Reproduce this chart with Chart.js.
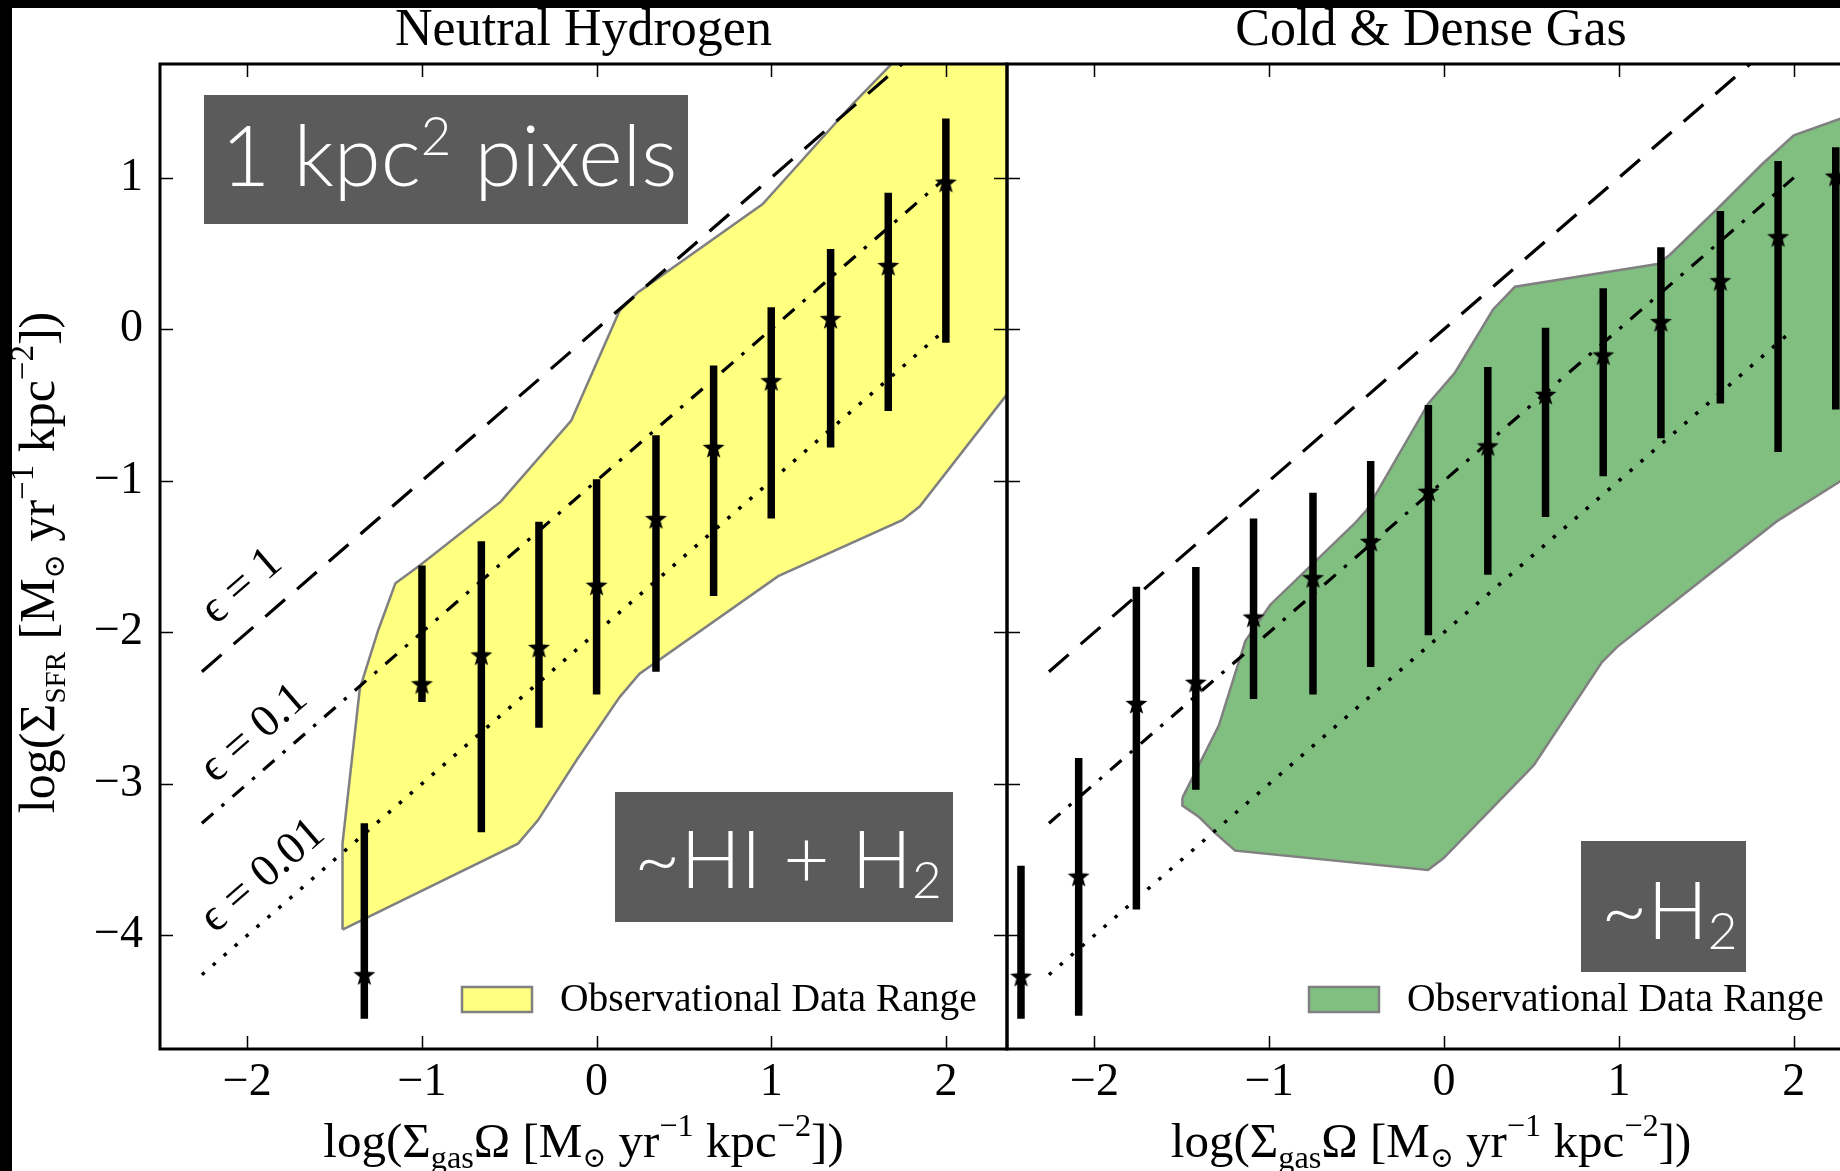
<!DOCTYPE html>
<html>
<head>
<meta charset="utf-8">
<title>SFR vs gas</title>
<script src="https://cdn.jsdelivr.net/npm/chart.js@4.4.1/dist/chart.umd.min.js"></script>
<style>
  html, body { margin: 0; padding: 0; width: 1840px; height: 1171px; overflow: hidden; background: #fff; }
  canvas { position: absolute; top: 0; }
  #left { left: 0; }
  #right { left: 997px; }
  .edge { position: absolute; background: #000; }
</style>
</head>
<body>
<canvas id="left" width="1010" height="1171"></canvas>
<canvas id="right" width="870" height="1171"></canvas>
<div class="edge" style="left:0;top:0;width:1840px;height:8px"></div>
<div class="edge" style="left:0;top:0;width:12px;height:1171px"></div>
<script>
// shared axes
const xTicks = [-2, -1, 0, 1, 2];
const yTicks = [-4, -3, -2, -1, 0, 1];
const xLimits = [-2.5, 2.35];
const yLimits = [-4.75, 1.75];

// efficiency lines, eps = 1, 0.1, 0.01
const effX = [-2.26, 2.0];
const effOne = [-2.26, 2.0];
const effTenth = [-3.26, 1.0];
const effHundredth = [-4.26, 0.0];

// neutral hydrogen (HI + H2) binned values
const hiX = [-1.33, -1.0, -0.66, -0.33, 0.0, 0.34, 0.67, 1.0, 1.34, 1.67, 2.0];
const hiMid = [-4.26, -2.34, -2.15, -2.1, -1.69, -1.25, -0.78, -0.34, 0.07, 0.42, 0.97];
const hiHigh = [-3.26, -1.56, -1.4, -1.27, -0.99, -0.7, -0.24, 0.145, 0.53, 0.9, 1.39];
const hiLow = [-4.55, -2.46, -3.32, -2.63, -2.41, -2.26, -1.76, -1.25, -0.78, -0.54, -0.09];

// neutral hydrogen observational range outline
const hiRangeX = [-1.455, -1.455, -1.356, -1.251, -1.152, -1.013, -0.549, -0.145, 0.132, 0.236, 0.951, 1.466, 1.9, 2.5, 2.5, 2.35, 1.85, 1.75, 1.04, 0.246, 0.132, -0.116, -0.336, -0.45, -1.455];
const hiRangeY = [-3.962, -3.395, -2.373, -1.988, -1.676, -1.559, -1.138, -0.603, 0.123, 0.243, 0.826, 1.486, 2.0, 2.0, -0.2, -0.43, -1.17, -1.26, -1.63, -2.274, -2.428, -2.846, -3.241, -3.395, -3.962];

// cold and dense gas (H2) binned values
const h2X = [-2.42, -2.09, -1.76, -1.42, -1.09, -0.75, -0.42, -0.09, 0.25, 0.58, 0.91, 1.24, 1.58, 1.91, 2.24];
const h2Mid = [-4.27, -3.61, -2.47, -2.33, -1.9, -1.64, -1.4, -1.07, -0.77, -0.43, -0.17, 0.05, 0.32, 0.61, 1.01];
const h2High = [-3.54, -2.83, -1.7, -1.57, -1.25, -1.08, -0.87, -0.5, -0.25, 0.01, 0.27, 0.54, 0.78, 1.11, 1.2];
const h2Low = [-4.55, -4.53, -3.83, -3.04, -2.44, -2.41, -2.23, -2.02, -1.62, -1.24, -0.97, -0.72, -0.49, -0.81, -0.53];

// cold and dense gas observational range outline
const h2RangeX = [-1.497, -1.288, -1.137, -0.994, -0.507, -0.444, -0.09, 0.06, 0.28, 0.405, 1.22, 1.29, 1.55, 1.82, 2.0, 2.27, 2.5, 2.5, 2.27, 1.9, 1.42, 0.99, 0.903, 0.512, -0.004, -0.092, -1.195, -1.301, -1.402, -1.497, -1.497];
const h2RangeY = [-3.093, -2.614, -2.058, -1.818, -1.276, -1.195, -0.49, -0.29, 0.13, 0.28, 0.43, 0.49, 0.78, 1.09, 1.28, 1.39, 1.45, -0.8, -1.0, -1.27, -1.705, -2.096, -2.197, -2.879, -3.492, -3.568, -3.441, -3.333, -3.219, -3.144, -3.093];

const SERIF = '"Liberation Serif", "DejaVu Serif", serif';
const SANS = 'Lato, "Open Sans", sans-serif';

function pts(xs, ys) {
  return xs.map((x, i) => ({ x: x, y: ys[i] }));
}

function bars(xs, lo, hi) {
  const out = [];
  xs.forEach((x, i) => {
    out.push({ x: x, y: lo[i] }, { x: x, y: hi[i] }, { x: x, y: null });
  });
  return out;
}

function minus(v) {
  return v < 0 ? '\u2212' + Math.abs(v) : String(v);
}

// filled five point star, like matplotlib's '*'
function starImage(r) {
  const c = document.createElement('canvas');
  const s = Math.ceil(r * 2 + 2);
  c.width = c.height = s;
  const g = c.getContext('2d');
  g.translate(s / 2, s / 2 + 1);
  g.beginPath();
  for (let i = 0; i < 10; i++) {
    const a = -Math.PI / 2 + i * Math.PI / 5;
    const rr = i % 2 ? r * 0.42 : r;
    g.lineTo(rr * Math.cos(a), rr * Math.sin(a));
  }
  g.closePath();
  g.fillStyle = '#000';
  g.fill();
  return c;
}
const star = starImage(11.5);

// text with sub/superscripts: [text, size factor, baseline shift in em]
function richWidth(ctx, segs, size, weight, family) {
  let w = 0;
  segs.forEach(s => {
    ctx.font = weight + ' ' + (size * s[1]) + 'px ' + family;
    w += ctx.measureText(s[0]).width;
  });
  return w;
}

function drawRich(ctx, segs, x, y, size, weight, family, center) {
  if (center) x -= richWidth(ctx, segs, size, weight, family) / 2;
  ctx.textAlign = 'left';
  ctx.textBaseline = 'alphabetic';
  segs.forEach(s => {
    ctx.font = weight + ' ' + (size * s[1]) + 'px ' + family;
    ctx.fillText(s[0], x, y + s[2] * size);
    x += ctx.measureText(s[0]).width;
  });
}

const xLabel = [['log(\u03A3', 1, 0], ['gas', 0.66, 0.22], ['\u03A9 [M', 1, 0], ['\u2299', 0.58, 0.2],
  [' yr', 1, 0], ['\u22121', 0.66, -0.42], [' kpc', 1, 0], ['\u22122', 0.66, -0.42], ['])', 1, 0]];
const yLabel = [['log(\u03A3', 1, 0], ['SFR', 0.58, 0.22], [' [M', 1, 0], ['\u2299', 0.58, 0.2],
  [' yr', 1, 0], ['\u22121', 0.66, -0.42], [' kpc', 1, 0], ['\u22122', 0.66, -0.42], ['])', 1, 0]];

function makeDecor(cfg) {
  return {
    id: 'decor',
    afterDatasetsDraw(chart) {
      const ctx = chart.ctx, a = chart.chartArea;
      const xs = chart.scales.x, ys = chart.scales.y;
      ctx.save();

      if (cfg.eps) {
        const ang = Math.atan2(ys.getPixelForValue(0) - ys.getPixelForValue(1),
                               xs.getPixelForValue(1) - xs.getPixelForValue(0));
        ctx.fillStyle = '#000';
        ctx.font = '46px ' + SERIF;
        ctx.textAlign = 'center';
        ctx.textBaseline = 'middle';
        cfg.eps.forEach(e => {
          ctx.save();
          ctx.translate(xs.getPixelForValue(e.x), ys.getPixelForValue(e.y));
          ctx.rotate(-ang);
          ctx.fillText(e.text, 0, 0);
          ctx.restore();
        });
      }

      cfg.boxes.forEach(b => {
        const L = a.left + b.dx, T = a.top + b.dy;
        ctx.fillStyle = '#5b5b5b';
        ctx.fillRect(L, T, b.w, b.h);
        ctx.fillStyle = '#fff';
        drawRich(ctx, b.segs, L + b.tx, T + b.ty, b.size, '300', SANS, false);
      });

      // legend
      ctx.fillStyle = cfg.fill;
      ctx.fillRect(a.left + 302, a.top + 923, 70, 25);
      ctx.strokeStyle = '#808080';
      ctx.lineWidth = 2.5;
      ctx.strokeRect(a.left + 302, a.top + 923, 70, 25);
      ctx.fillStyle = '#000';
      ctx.font = '39.5px ' + SERIF;
      ctx.textAlign = 'left';
      ctx.textBaseline = 'alphabetic';
      ctx.fillText('Observational Data Range', a.left + 400, a.top + 947);

      // inward ticks on all four sides, then the frame
      ctx.strokeStyle = '#000';
      ctx.lineWidth = 1.5;
      ctx.beginPath();
      xs.ticks.forEach(t => {
        const p = Math.round(xs.getPixelForValue(t.value)) + 0.5;
        ctx.moveTo(p, a.bottom); ctx.lineTo(p, a.bottom - 13);
        ctx.moveTo(p, a.top); ctx.lineTo(p, a.top + 13);
      });
      ys.ticks.forEach(t => {
        const p = Math.round(ys.getPixelForValue(t.value)) + 0.5;
        ctx.moveTo(a.left, p); ctx.lineTo(a.left + 13, p);
        ctx.moveTo(a.right, p); ctx.lineTo(a.right - 13, p);
      });
      ctx.stroke();
      ctx.lineWidth = 3;
      ctx.strokeRect(a.left, a.top, a.right - a.left, a.bottom - a.top);
      ctx.restore();
    },
    afterDraw(chart) {
      const ctx = chart.ctx, a = chart.chartArea;
      const cx = (a.left + a.right) / 2;
      ctx.save();
      ctx.fillStyle = '#000';
      ctx.font = '52px ' + SERIF;
      ctx.textAlign = 'center';
      ctx.textBaseline = 'alphabetic';
      ctx.fillText(cfg.title, cx, 45);
      drawRich(ctx, xLabel, cx, 1157, 49, '400', SERIF, true);
      if (cfg.yLabel) {
        ctx.translate(54, (a.top + a.bottom) / 2 + 6);
        ctx.rotate(-Math.PI / 2);
        drawRich(ctx, yLabel, 0, 0, 50, '400', SERIF, true);
      }
      ctx.restore();
    }
  };
}

function makeChart(id, cfg) {
  const datasets = [
    { data: pts(cfg.rangeX, cfg.rangeY), fill: 'shape', backgroundColor: cfg.fill,
      borderColor: '#808080', borderWidth: 2.5, pointRadius: 0, order: 5 },
    { data: pts(effX, effOne), borderColor: '#000', borderWidth: 3.2, borderDash: [26, 16],
      pointRadius: 0, fill: false, order: 4 },
    { data: pts(effX, effTenth), borderColor: '#000', borderWidth: 3.2, borderDash: [15, 11, 3.5, 11],
      pointRadius: 0, fill: false, order: 4 },
    { data: pts(effX, effHundredth), borderColor: '#000', borderWidth: 3.5, borderDash: [3.5, 11],
      pointRadius: 0, fill: false, order: 4 },
    { data: bars(cfg.x, cfg.low, cfg.high), borderColor: '#000', borderWidth: 7.5,
      borderCapStyle: 'butt', pointRadius: 0, fill: false, spanGaps: false, order: 2 },
    { data: pts(cfg.x, cfg.mid), showLine: false, pointStyle: star, pointRadius: 11,
      backgroundColor: '#000', borderColor: '#000', order: 1 }
  ];
  return new Chart(document.getElementById(id), {
    type: 'line',
    data: { datasets: datasets },
    options: {
      responsive: false,
      animation: false,
      devicePixelRatio: 1,
      events: [],
      layout: { padding: cfg.padding, autoPadding: false },
      plugins: { legend: { display: false }, tooltip: { enabled: false }, title: { display: false } },
      scales: {
        x: {
          type: 'linear', min: xLimits[0], max: xLimits[1],
          afterBuildTicks: s => { s.ticks = xTicks.map(v => ({ value: v })); },
          afterFit: s => { s.height = 122; s.paddingLeft = 0; s.paddingRight = 0; },
          grid: { display: false, drawTicks: false },
          border: { display: false },
          ticks: { color: '#000', font: { family: SERIF, size: 46 }, padding: 6,
                   maxRotation: 0, autoSkip: false, callback: v => minus(v) }
        },
        y: {
          type: 'linear', min: yLimits[0], max: yLimits[1],
          afterBuildTicks: s => { s.ticks = yTicks.map(v => ({ value: v })); },
          afterFit: s => { s.width = cfg.yWidth; s.paddingTop = 0; s.paddingBottom = 0; },
          grid: { display: false, drawTicks: false },
          border: { display: false },
          ticks: { display: cfg.yLabel, color: '#000', font: { family: SERIF, size: 46 }, padding: 17,
                   autoSkip: false, callback: v => minus(v) }
        }
      }
    },
    plugins: [makeDecor(cfg)]
  });
}

makeChart('left', {
  title: 'Neutral Hydrogen',
  x: hiX, mid: hiMid, high: hiHigh, low: hiLow,
  rangeX: hiRangeX, rangeY: hiRangeY,
  fill: '#ffff80',
  padding: { top: 64, left: 0, right: 3, bottom: 0 },
  yWidth: 160,
  yLabel: true,
  eps: [
    { text: '\u03F5 = 1', x: -2.03, y: -1.70 },
    { text: '\u03F5 = 0.1', x: -1.96, y: -2.67 },
    { text: '\u03F5 = 0.01', x: -1.91, y: -3.61 }
  ],
  boxes: [
    { dx: 44, dy: 31, w: 484, h: 129, tx: 17, ty: 91, size: 85,
      segs: [['1 kpc', 1, 0], ['2', 0.62, -0.36], [' pixels', 1, 0]] },
    { dx: 455, dy: 728, w: 338, h: 130, tx: 19, ty: 96, size: 80,
      segs: [['~HI + H', 1, 0], ['2', 0.64, 0.13]] }
  ]
});

makeChart('right', {
  title: 'Cold & Dense Gas',
  x: h2X, mid: h2Mid, high: h2High, low: h2Low,
  rangeX: h2RangeX, rangeY: h2RangeY,
  fill: '#80bf80',
  padding: { top: 64, left: 0, right: 12, bottom: 0 },
  yWidth: 10,
  yLabel: false,
  eps: null,
  boxes: [
    { dx: 574, dy: 777, w: 165, h: 131, tx: 20, ty: 98, size: 80,
      segs: [['~H', 1, 0], ['2', 0.64, 0.13]] }
  ]
});
</script>
</body>
</html>
